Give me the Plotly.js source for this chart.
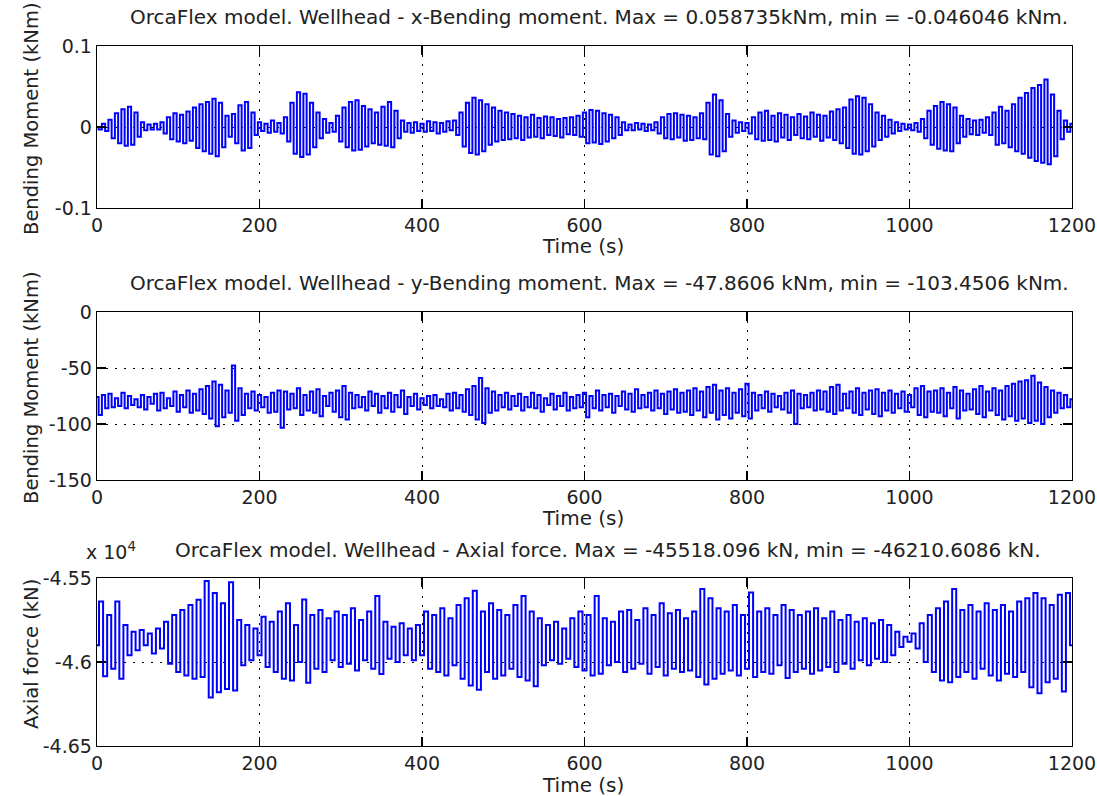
<!DOCTYPE html>
<html>
<head>
<meta charset="utf-8">
<script src="https://cdn.plot.ly/plotly-3.0.1.min.js"></script>
<style>
html,body{margin:0;padding:0;background:#ffffff;}
#chart{width:1097px;height:796px;}
</style>
</head>
<body>
<div id="chart"></div>
<script>
// ---------------- DATA ----------------
const timeTicks = [0, 200, 400, 600, 800, 1000, 1200];

// x-bending moment (kNm), successive extremes every 4 s from t = 0
const xMomentStart = 0;
const xMomentStep = 4;
const xMoment = [
 0, -0.003, 0.004, -0.005, 0.009, -0.014, 0.017, -0.020, 0.022, -0.023,
 0.025, -0.022, 0.018, -0.012, 0.006, -0.004, 0.003, -0.003, 0.004, -0.003,
 0.006, -0.008, 0.012, -0.015, 0.017, -0.018, 0.015, -0.020, 0.019, -0.017,
 0.024, -0.026, 0.028, -0.030, 0.031, -0.033, 0.035, -0.036, 0.030, -0.025,
 0.014, -0.012, 0.016, -0.020, 0.027, -0.029, 0.031, -0.026, 0.018, -0.010,
 0.006, -0.005, 0.004, -0.007, 0.008, -0.006, 0.005, -0.008, 0.012, -0.018,
 0.030, -0.033, 0.043, -0.037, 0.041, -0.034, 0.030, -0.025, 0.018, -0.014,
 0.010, -0.007, 0.005, -0.006, 0.014, -0.018, 0.024, -0.025, 0.031, -0.029,
 0.033, -0.028, 0.026, -0.024, 0.022, -0.020, 0.018, -0.022, 0.025, -0.023,
 0.031, -0.025, 0.020, -0.014, 0.008, -0.006, 0.005, -0.007, 0.006, -0.005,
 0.004, -0.006, 0.007, -0.005, 0.006, -0.008, 0.005, -0.006, 0.007, -0.004,
 0.008, -0.010, 0.018, -0.024, 0.030, -0.032, 0.036, -0.034, 0.033, -0.030,
 0.028, -0.022, 0.024, -0.018, 0.020, -0.016, 0.018, -0.015, 0.016, -0.014,
 0.014, -0.016, 0.012, -0.013, 0.015, -0.012, 0.011, -0.014, 0.013, -0.010,
 0.012, -0.011, 0.010, -0.013, 0.011, -0.009, 0.012, -0.010, 0.014, -0.012,
 0.018, -0.020, 0.021, -0.019, 0.020, -0.021, 0.017, -0.018, 0.015, -0.014,
 0.012, -0.010, 0.006, -0.004, 0.003, -0.004, 0.005, -0.003, 0.004, -0.005,
 0.003, -0.004, 0.006, -0.008, 0.012, -0.014, 0.016, -0.015, 0.017, -0.013,
 0.015, -0.017, 0.014, -0.016, 0.012, -0.014, 0.017, -0.015, 0.030, -0.034,
 0.040, -0.036, 0.033, -0.030, 0.016, -0.012, 0.008, -0.007, 0.006, -0.005,
 0.005, -0.008, 0.012, -0.015, 0.018, -0.017, 0.020, -0.016, 0.014, -0.018,
 0.017, -0.013, 0.015, -0.016, 0.012, -0.010, 0.016, -0.014, 0.013, -0.015,
 0.018, -0.012, 0.015, -0.017, 0.014, -0.013, 0.019, -0.016, 0.022, -0.020,
 0.024, -0.026, 0.034, -0.033, 0.038, -0.034, 0.036, -0.030, 0.028, -0.024,
 0.018, -0.016, 0.014, -0.012, 0.009, -0.008, 0.006, -0.005, 0.004, -0.003,
 0.003, -0.004, 0.005, -0.006, 0.010, -0.014, 0.020, -0.022, 0.026, -0.027,
 0.031, -0.029, 0.028, -0.030, 0.024, -0.020, 0.014, -0.012, 0.010, -0.009,
 0.008, -0.010, 0.009, -0.007, 0.012, -0.010, 0.018, -0.022, 0.025, -0.020,
 0.020, -0.025, 0.028, -0.030, 0.036, -0.033, 0.042, -0.038, 0.048, -0.042,
 0.052, -0.044, 0.058735, -0.046046, 0.040, -0.036, 0.020, -0.015, 0.008, -0.006,
 0.004
];

// y-bending moment (kNm), successive extremes every 4 s from t = 0
const yMomentStart = 0;
const yMomentStep = 4;
const yMoment = [
 -76, -92, -74, -86, -73, -85, -77, -84, -72, -86,
 -75, -83, -78, -85, -74, -87, -76, -82, -73, -88,
 -72, -86, -77, -84, -71, -89, -74, -85, -70, -90,
 -73, -88, -69, -91, -66, -95, -62, -102, -65, -94,
 -70, -90, -47.8606, -97, -68, -92, -73, -86, -71, -88,
 -74, -85, -76, -90, -72, -89, -70, -103.4506, -71, -87,
 -73, -86, -68, -92, -74, -88, -71, -90, -69, -93,
 -75, -84, -72, -89, -70, -94, -66, -96, -72, -86,
 -74, -85, -76, -88, -71, -84, -73, -90, -75, -86,
 -72, -89, -74, -85, -70, -91, -76, -84, -73, -87,
 -77, -83, -75, -86, -74, -84, -78, -85, -73, -88,
 -72, -86, -74, -89, -69, -92, -66, -96, -59, -99,
 -68, -90, -71, -88, -74, -85, -72, -87, -75, -84,
 -73, -88, -76, -85, -72, -86, -74, -89, -77, -83,
 -73, -87, -75, -84, -72, -88, -76, -86, -74, -85,
 -72, -94, -75, -86, -70, -88, -74, -85, -73, -90,
 -75, -84, -71, -87, -73, -89, -69, -86, -74, -85,
 -72, -88, -70, -86, -73, -91, -71, -87, -69, -90,
 -72, -89, -70, -92, -68, -88, -71, -94, -67, -90,
 -65, -96, -70, -92, -68, -95, -72, -90, -69, -93,
 -64, -95, -72, -88, -74, -86, -71, -89, -73, -85,
 -75, -87, -72, -90, -70, -100, -73, -86, -74, -85,
 -72, -88, -70, -87, -71, -89, -67, -91, -65, -88,
 -73, -86, -71, -90, -68, -92, -72, -87, -70, -91,
 -69, -93, -72, -88, -70, -90, -73, -86, -71, -89,
 -74, -85, -68, -92, -66, -94, -71, -89, -70, -90,
 -68, -93, -72, -86, -67, -95, -70, -88, -73, -87,
 -69, -91, -66, -94, -71, -88, -68, -92, -70, -96,
 -66, -93, -64, -97, -62, -95, -61, -99, -57, -97,
 -63, -100, -67, -94, -70, -90, -72, -86, -74, -85,
 -78
];

// axial force (kN), successive extremes every 5 s from t = 0
const axialStart = 0;
const axialStep = 5;
const axialForce = [
 -45900, -45640, -46085, -45720, -46040, -45640, -46100, -45780, -45960, -45820,
 -45930, -45810, -45900, -45830, -45950, -45800, -45920, -45760, -46010, -45720,
 -46060, -45690, -46080, -45660, -46100, -45630, -46090, -45518.096, -46210.6086, -45590,
 -46180, -45650, -46160, -45525, -46170, -45750, -46020, -45780, -45990, -45800,
 -45960, -45730, -46030, -45760, -46060, -45700, -46100, -45650, -46110, -45780,
 -46000, -45628, -46124, -45720, -46040, -45690, -46060, -45740, -45990, -45700,
 -46030, -45720, -46010, -45680, -46050, -45750, -45990, -45700, -46040, -45607,
 -46072, -45760, -45980, -45790, -46000, -45770, -45960, -45800, -45990, -45780,
 -45960, -45700, -46040, -45720, -46060, -45680, -46080, -45740, -46020, -45660,
 -46100, -45620, -46140, -45576, -46165, -45700, -46060, -45650, -46100, -45690,
 -46080, -45720, -46040, -45660, -46090, -45607, -46110, -45700, -46145, -45740,
 -46020, -45780, -45990, -45760, -46010, -45800, -45980, -45740, -46030, -45700,
 -46050, -45720, -46080, -45607, -46070, -45740, -46020, -45760, -46000, -45700,
 -46060, -45690, -46040, -45750, -46010, -45680, -46070, -45720, -46030, -45650,
 -46080, -45710, -46040, -45690, -46060, -45740, -46050, -45700, -46090, -45566,
 -46134, -45620, -46100, -45680, -46070, -45700, -46050, -45660, -46080, -45720,
 -46040, -45587, -46090, -45700, -46060, -45680, -46070, -45720, -46020, -45660,
 -46095, -45690, -46060, -45720, -46040, -45700, -46070, -45680, -46050, -45740,
 -46030, -45700, -46060, -45750, -46010, -45720, -46040, -45760, -45990, -45740,
 -46020, -45770, -45980, -45750, -46000, -45780, -45960, -45820, -45910, -45850,
 -45880, -45830, -45920, -45770, -46000, -45720, -46060, -45680, -46110, -45640,
 -46120, -45566, -46090, -45690, -46060, -45660, -46100, -45700, -46040, -45650,
 -46080, -45690, -46110, -45660, -46070, -45700, -46090, -45640, -46060, -45620,
 -46150, -45590, -46186, -45620, -46120, -45660, -46100, -45600, -46175, -45590,
 -45900
];

const xMomentTicks = [-0.1, 0, 0.1];
const xMomentTickText = ['-0.1', '0', '0.1'];
const yMomentTicks = [-150, -100, -50, 0];
const yMomentTickText = ['-150', '-100', '-50', '0'];
const axialTicks = [-46500, -46000, -45500];
const axialTickText = ['-4.65', '-4.6', '-4.55'];

const titles = [
 'OrcaFlex model. Wellhead - x-Bending moment. Max = 0.058735kNm, min = -0.046046 kNm.',
 'OrcaFlex model. Wellhead - y-Bending moment. Max = -47.8606 kNm, min = -103.4506 kNm.',
 'OrcaFlex model. Wellhead - Axial force. Max = -45518.096 kN, min = -46210.6086 kN.'
];
const xLabel = 'Time (s)';
const yLabels = ['Bending Moment (kNm)', 'Bending Moment (kNm)', 'Axial force (kN)'];
const exponentLabel = 'x 10<sup>4</sup>';

// ---------------- LAYOUT / STYLE ----------------
const W = 1097, H = 796;
const FONT = 'DejaVu Sans, Verdana, sans-serif';
const TXT = '#222222';
const FS = 20;
const FT = 19;
const px = v => v / W;
const py = v => 1 - v / H;

const boxLeft = 97, boxRight = 1072;
const boxes = [[46, 208], [312, 480], [578, 746]];

function xAx(anchor) {
  return {
    domain: [px(boxLeft), px(boxRight)], anchor: anchor,
    range: [0, 1200], tickmode: 'array', tickvals: timeTicks, ticktext: timeTicks.map(String),
    ticks: 'inside', ticklen: 9, tickwidth: 1.3, tickcolor: '#000',
    showline: true, linecolor: '#000', linewidth: 1.3, mirror: 'allticks',
    showgrid: true, gridcolor: '#000', gridwidth: 1, griddash: '2px,7px',
    zeroline: false, automargin: false, fixedrange: true,
    tickfont: {family: FONT, size: FT, color: TXT}
  };
}
function yAx(anchor, box, range, tv, tt) {
  return {
    domain: [py(box[1]), py(box[0])], anchor: anchor,
    range: range, tickmode: 'array', tickvals: tv, ticktext: tt,
    ticks: 'inside', ticklen: 9, tickwidth: 1.3, tickcolor: '#000',
    showline: true, linecolor: '#000', linewidth: 1.3, mirror: 'allticks',
    showgrid: true, gridcolor: '#000', gridwidth: 1, griddash: '2px,7px',
    zeroline: false, automargin: false, fixedrange: true,
    tickfont: {family: FONT, size: FT, color: TXT}
  };
}

const lineStyle = {color: 'rgb(0,0,255)', width: 2, shape: 'hvh'};
const traces = [
  {type: 'scatter', mode: 'lines', x0: xMomentStart, dx: xMomentStep, y: xMoment, xaxis: 'x', yaxis: 'y', line: lineStyle, hoverinfo: 'skip'},
  {type: 'scatter', mode: 'lines', x0: yMomentStart, dx: yMomentStep, y: yMoment, xaxis: 'x2', yaxis: 'y2', line: lineStyle, hoverinfo: 'skip'},
  {type: 'scatter', mode: 'lines', x0: axialStart, dx: axialStep, y: axialForce, xaxis: 'x3', yaxis: 'y3', line: lineStyle, hoverinfo: 'skip'}
];

const titleY = [17, 283, 550];
const timeY = [246, 518, 785];
const annotations = [];
for (let i = 0; i < 3; i++) {
  annotations.push({text: titles[i], xref: 'paper', yref: 'paper', x: px(i === 2 ? 608 : 599), y: py(titleY[i]),
    xanchor: 'center', yanchor: 'middle', showarrow: false, font: {family: FONT, size: FS, color: TXT}});
  annotations.push({text: xLabel, xref: 'paper', yref: 'paper', x: px(583), y: py(timeY[i]),
    xanchor: 'center', yanchor: 'middle', showarrow: false, font: {family: FONT, size: FS, color: TXT}});
  annotations.push({text: yLabels[i], xref: 'paper', yref: 'paper', x: px(31), y: py((boxes[i][0] + boxes[i][1]) / 2 - 8),
    xanchor: 'center', yanchor: 'middle', textangle: -90, showarrow: false, font: {family: FONT, size: FS - 0.5, color: TXT}});
}
annotations.push({text: exponentLabel, xref: 'paper', yref: 'paper', x: px(84), y: py(551),
  xanchor: 'left', yanchor: 'middle', showarrow: false, font: {family: FONT, size: FT, color: TXT}});

const layout = {
  width: W, height: H,
  margin: {l: 0, r: 0, t: 0, b: 0, pad: 0},
  paper_bgcolor: '#ffffff', plot_bgcolor: '#ffffff',
  showlegend: false,
  xaxis: xAx('y'), xaxis2: xAx('y2'), xaxis3: xAx('y3'),
  yaxis: yAx('x', boxes[0], [-0.1, 0.1], xMomentTicks, xMomentTickText),
  yaxis2: yAx('x2', boxes[1], [-150, 0], yMomentTicks, yMomentTickText),
  yaxis3: yAx('x3', boxes[2], [-46500, -45500], axialTicks, axialTickText),
  annotations: annotations
};

Plotly.newPlot('chart', traces, layout, {staticPlot: true, displayModeBar: false});
</script>
</body>
</html>
